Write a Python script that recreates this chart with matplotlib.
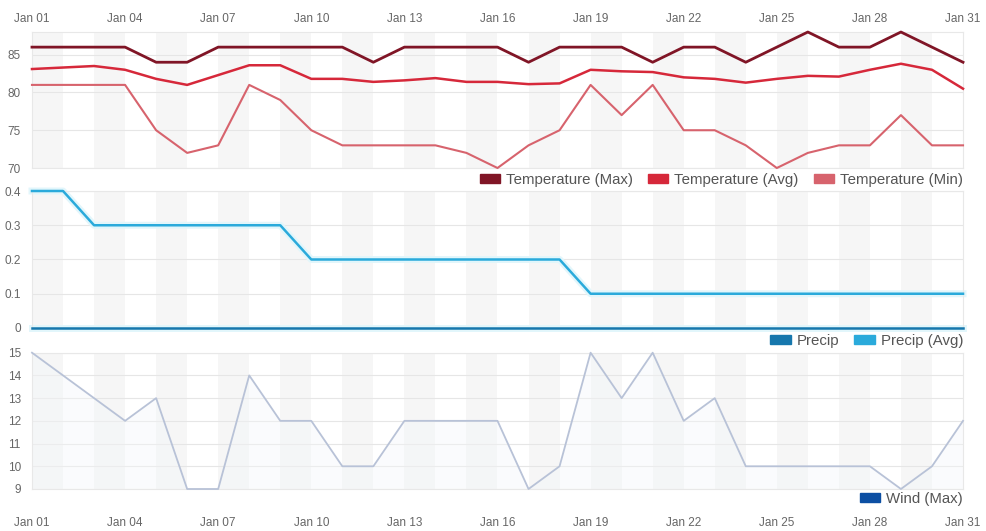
import matplotlib
matplotlib.use('Agg')
import matplotlib.pyplot as plt
import matplotlib.dates as mdates
import pandas as pd
from matplotlib.patches import Patch
from matplotlib.ticker import FuncFormatter

# daily weather, January
dates = pd.date_range('2024-01-01', '2024-01-31', freq='D')

temp_max = [86, 86, 86, 86, 84, 84, 86, 86, 86, 86, 86, 84, 86, 86, 86, 86,
            84, 86, 86, 86, 84, 86, 86, 84, 86, 88, 86, 86, 88, 86, 84]
temp_avg = [83.1, 83.3, 83.5, 83.0, 81.8, 81.0, 82.3, 83.6, 83.6, 81.8, 81.8,
            81.4, 81.6, 81.9, 81.4, 81.4, 81.1, 81.2, 83.0, 82.8, 82.7, 82.0,
            81.8, 81.3, 81.8, 82.2, 82.1, 83.0, 83.8, 83.0, 80.5]
temp_min = [81, 81, 81, 81, 75, 72, 73, 81, 79, 75, 73, 73, 73, 73, 72, 70,
            73, 75, 81, 77, 81, 75, 75, 73, 70, 72, 73, 73, 77, 73, 73]

precip = [0, 0, 0, 0, 0, 0, 0, 0, 0, 0, 0, 0, 0, 0, 0, 0,
          0, 0, 0, 0, 0, 0, 0, 0, 0, 0, 0, 0, 0, 0, 0]
precip_avg = [0.4, 0.4, 0.3, 0.3, 0.3, 0.3, 0.3, 0.3, 0.3, 0.2, 0.2, 0.2, 0.2,
              0.2, 0.2, 0.2, 0.2, 0.2, 0.1, 0.1, 0.1, 0.1, 0.1, 0.1, 0.1, 0.1,
              0.1, 0.1, 0.1, 0.1, 0.1]

wind_max = [15, 14, 13, 12, 13, 9, 9, 14, 12, 12, 10, 10, 12, 12, 12, 12,
            9, 10, 15, 13, 15, 12, 13, 10, 10, 10, 10, 10, 9, 10, 12]

plt.rcParams['font.family'] = ['Liberation Sans', 'DejaVu Sans']
plt.rcParams['font.size'] = 9

TXT = '#666666'


def style_axis(ax, ylim, yticks):
    ax.set_xlim(dates[0], dates[-1])
    ax.set_ylim(*ylim)
    ax.set_yticks(yticks)
    ax.yaxis.set_major_formatter(FuncFormatter(lambda v, _: f'{v:g}'))
    # alternating day bands
    for i in range(0, len(dates) - 1, 2):
        ax.axvspan(dates[i], dates[i + 1], color='#f6f6f6', lw=0, zorder=0)
    ax.grid(axis='y', color='#e6e6e6', lw=0.8)
    ax.set_axisbelow(True)
    for s in ax.spines.values():
        s.set_color('#e8e8e8')
        s.set_linewidth(0.8)
    ax.tick_params(length=0, labelsize=8.5, labelcolor=TXT)
    ax.tick_params(axis='y', pad=8)
    ax.xaxis.set_major_locator(mdates.DayLocator(bymonthday=range(1, 32, 3)))
    ax.xaxis.set_major_formatter(mdates.DateFormatter('%b %d'))


def add_legend(ax, items, y):
    handles = [Patch(color=c, label=l) for l, c in items]
    ax.legend(handles=handles, loc='upper right', bbox_to_anchor=(1.0, y),
              ncol=len(items), frameon=False, fontsize=10.8, labelcolor='#555555',
              handlelength=1.35, handleheight=0.55, handletextpad=0.4,
              columnspacing=1.0, borderpad=0, borderaxespad=0)


fig = plt.figure(figsize=(9.87, 5.31), dpi=100)
ax_t = fig.add_axes([0.0324, 0.6836, 0.9433, 0.2561])
ax_p = fig.add_axes([0.0324, 0.3823, 0.9433, 0.2580])
ax_w = fig.add_axes([0.0324, 0.0791, 0.9433, 0.2567])

# temperature
c_max, c_avg, c_min = '#801526', '#d6283a', '#d7636d'
style_axis(ax_t, (70, 88), [70, 75, 80, 85])
ax_t.plot(dates, temp_max, color=c_max, lw=2, clip_on=False, zorder=3)
ax_t.plot(dates, temp_avg, color=c_avg, lw=1.8, clip_on=False, zorder=3)
ax_t.plot(dates, temp_min, color=c_min, lw=1.5, clip_on=False, zorder=3)
ax_t.xaxis.tick_top()
ax_t.tick_params(axis='x', pad=5)
add_legend(ax_t, [('Temperature (Max)', c_max), ('Temperature (Avg)', c_avg),
                  ('Temperature (Min)', c_min)], -0.035)

# precipitation
c_pr, c_pra = '#1677ad', '#2aaadb'
style_axis(ax_p, (0, 0.4), [0, 0.1, 0.2, 0.3, 0.4])
ax_p.plot(dates, precip_avg, color='#e2f6fb', lw=5, clip_on=False, zorder=2)
ax_p.plot(dates, precip, color='#e2f6fb', lw=5, clip_on=False, zorder=2)
ax_p.plot(dates, precip_avg, color=c_pra, lw=1.8, clip_on=False, zorder=3)
ax_p.plot(dates, precip, color=c_pr, lw=1.8, clip_on=False, zorder=3)
ax_p.tick_params(axis='x', labelbottom=False)
add_legend(ax_p, [('Precip', c_pr), ('Precip (Avg)', c_pra)], -0.045)

# wind
c_wind_line, c_wind = '#b8c2d7', '#0c4fa3'
style_axis(ax_w, (9, 15), [9, 10, 11, 12, 13, 14, 15])
ax_w.fill_between(dates, wind_max, 9, color='#f3f6fa', alpha=0.4, lw=0, zorder=1)
ax_w.plot(dates, wind_max, color=c_wind_line, lw=1.3, clip_on=False, zorder=3)
ax_w.tick_params(axis='x', pad=20)
add_legend(ax_w, [('Wind (Max)', c_wind)], -0.02)

plt.savefig('out.png', dpi=100)
